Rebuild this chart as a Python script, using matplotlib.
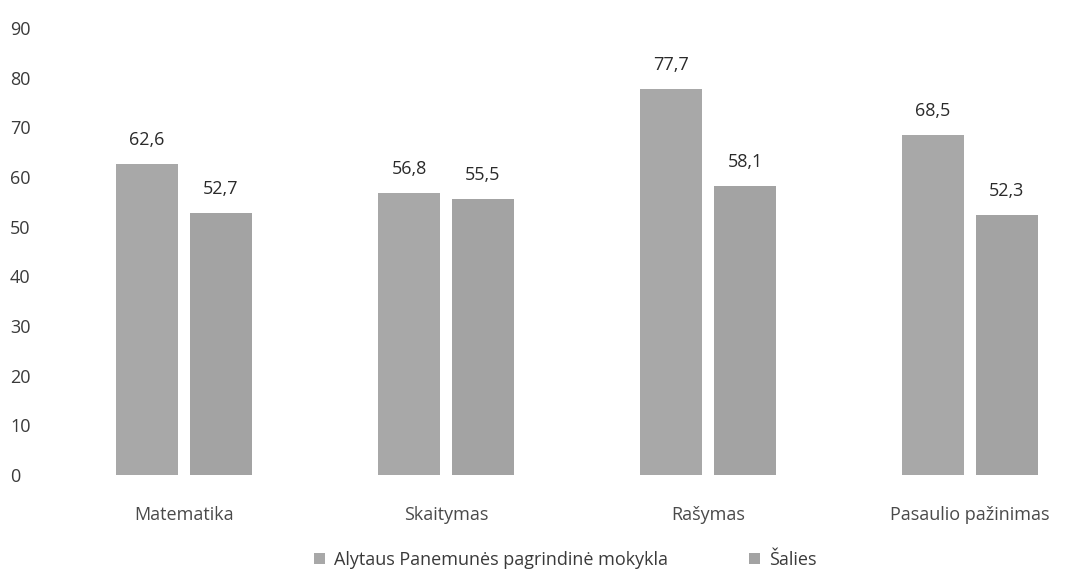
import numpy as np
import matplotlib.pyplot as plt

categories = ["Matematika", "Skaitymas", "Rašymas", "Pasaulio pažinimas"]
school = [62.6, 56.8, 77.7, 68.5]
country = [52.7, 55.5, 58.1, 52.3]
series_names = ["Alytaus Panemunės pagrindinė mokykla", "Šalies"]
yticks = list(range(0, 100, 10))

plt.rcParams['font.family'] = ['Open Sans', 'DejaVu Sans']

fig = plt.figure(figsize=(10.65, 5.74), dpi=100)
ax = fig.add_axes([53/1065, 1-475/574, 1-53/1065, (475-28)/574])

x = np.arange(len(categories))
w = 0.237
off = 0.141
b1 = ax.bar(x - off, school, w, color='#a8a8a8', label=series_names[0])
b2 = ax.bar(x + off, country, w, color='#a3a3a3', label=series_names[1])

def fmt(v):
    return f"{v:.1f}".replace('.', ',')

for bars, vals in ((b1, school), (b2, country)):
    for r, v in zip(bars, vals):
        ax.annotate(fmt(v), (r.get_x() + r.get_width()/2, v), xytext=(0, 11),
                    textcoords='offset points', ha='center', va='bottom',
                    fontsize=13, color='#2a2a2a')

ax.set_ylim(0, 90)
ax.set_xlim(-0.5, (1065-184)/262)
ax.set_yticks(yticks)
ax.set_yticklabels([str(t) for t in yticks], fontsize=13, color='#3a3a3a', ha='left')
ax.set_xticks(x)
ax.set_xticklabels(categories, fontsize=13, color='#4a4a4a')
ax.tick_params(axis='both', length=0)
ax.tick_params(axis='y', pad=31)
ax.tick_params(axis='x', pad=22)
for s in ax.spines.values():
    s.set_visible(False)

fig.legend(handles=[b1, b2], labels=series_names, loc='center', bbox_to_anchor=(565/1065, 1-560/574),
           ncol=2, frameon=False, fontsize=13, handlelength=0.6, handleheight=0.6,
           handletextpad=0.5, columnspacing=4.5, labelcolor='#3a3a3a')

fig.savefig('out.png', dpi=100)
